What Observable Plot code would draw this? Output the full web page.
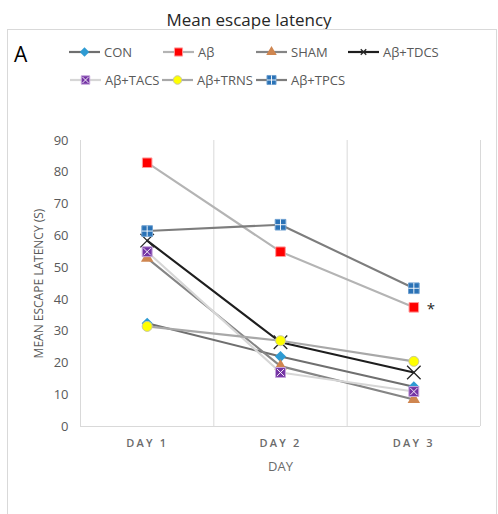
<!DOCTYPE html>
<html><head><meta charset="utf-8">
<script src="https://cdn.jsdelivr.net/npm/d3@7"></script>
<script src="https://cdn.jsdelivr.net/npm/@observablehq/plot@0.6"></script>
<style>
body{margin:0;background:#fff;font-family:"Open Sans",sans-serif;}
#wrap{position:relative;width:498px;height:514px;overflow:hidden;background:#fff;}
#title{position:absolute;left:0;width:498px;top:8px;text-align:center;font-size:17px;color:#262626;line-height:23px;}
#frame{position:absolute;left:7px;top:29px;width:490px;height:500px;border:1px solid #d9d9d9;box-sizing:border-box;}
#panel{position:absolute;left:14px;top:44px;font-size:21px;line-height:1;color:#000;}
.leg{position:absolute;display:flex;align-items:center;height:16px;font-size:13px;color:#595959;white-space:nowrap;}
.leg svg{margin-right:4px;}
#chart{position:absolute;left:0;top:120px;}
#chart g[aria-label="x-axis tick label"] text{letter-spacing:2.2px;font-weight:600;}
#chart g[aria-label="x-axis label"] text{font-size:13px;letter-spacing:0;}
#chart g[aria-label="y-axis label"] text{font-size:12px;}
</style></head><body>
<div id="wrap">
  <div id="title">Mean escape latency</div>
  <div id="frame"></div>
  <div id="panel">A</div>
  <div id="legend"></div>
  <div id="chart"></div>
</div>
<script>
// ---- data ----
const days = [1, 2, 3];
const dayLabels = ["DAY 1", "DAY 2", "DAY 3"];
const seriesNames = ["CON", "Aβ", "SHAM", "Aβ+TDCS", "Aβ+TACS", "Aβ+TRNS", "Aβ+TPCS"];
const CON  = [32.5, 22, 12.5];
const AB   = [83, 55, 37.5];
const SHAM = [53, 19, 8.5];
const TDCS = [58.5, 26.5, 17];
const TACS = [55, 17, 11];
const TRNS = [31.5, 27, 20.5];
const TPCS = [61.5, 63.5, 43.5];
const yTicks = [0, 10, 20, 30, 40, 50, 60, 70, 80, 90];
const yTitle = "MEAN ESCAPE LATENCY (S)";
const xTitle = "DAY";
const starSeries = "Aβ";

const seriesValues = [CON, AB, SHAM, TDCS, TACS, TRNS, TPCS];
const rows = seriesNames.flatMap((s, i) => days.map((d, j) => ({series: s, day: d, value: seriesValues[i][j]})));
const separators = [...days.map(d => d - 0.5), days[days.length - 1] + 0.5];

// ---- styles ----
const styles = {
  "CON":     {line: "#6f6f6f", symbol: "diamond2", fill: "#2e9bd3", stroke: "none", r: 5},
  "Aβ":      {line: "#b4b4b4", symbol: "square", fill: "#ff0000", stroke: "#ff9a9a", r: 5.4},
  "SHAM":    {line: "#858585", symbol: "triangle", fill: "#cf8650", stroke: "none", r: 4.6},
  "Aβ+TDCS": {line: "#1e1e1e", symbol: "times", fill: "none", stroke: "#262626", r: 6.2, sw: 1.3, lr: 2.6},
  "Aβ+TACS": {line: "#d6d6d6", symbol: "square", fill: "#7434a4", stroke: "#c6a6dc", r: 5.6, overlay: "times"},
  "Aβ+TRNS": {line: "#a8a8a8", symbol: "circle", fill: "#ffff00", stroke: "#c8c8a0", r: 5},
  "Aβ+TPCS": {line: "#7d7d7d", symbol: "square", fill: "#2a72b6", stroke: "#6fa0d0", r: 6, overlay: "plus"}
};

// ---- chart ----
const marks = [
  Plot.ruleX(separators, {stroke: "#d9d9d9", strokeWidth: 1}),
  Plot.ruleY([0], {stroke: "#d9d9d9", strokeWidth: 1.2})
];
for (const s of seriesNames) {
  const st = styles[s];
  const data = rows.filter(r => r.series === s);
  marks.push(Plot.line(data, {x: "day", y: "value", stroke: st.line, strokeWidth: 2.1}));
  marks.push(Plot.dot(data, {x: "day", y: "value", symbol: st.symbol, fill: st.fill, stroke: st.stroke, strokeWidth: st.sw || 1, r: st.r}));
  if (st.overlay) {
    marks.push(Plot.dot(data, {x: "day", y: "value", symbol: st.overlay, stroke: "#ffffff", strokeWidth: 0.9, r: st.r * 0.6}));
  }
}
const starRow = rows.filter(r => r.series === starSeries && r.day === days[days.length - 1]);
marks.push(Plot.text(starRow, {x: "day", y: "value", text: () => "*", dx: 17, dy: 2, fontSize: 15, fill: "#262626"}));
marks.push(Plot.axisY({ticks: yTicks, tickSize: 0, tickPadding: 12, fontSize: 13, fill: "#595959",
  label: yTitle, labelAnchor: "center", labelArrow: "none", labelOffset: 46}));
marks.push(Plot.axisX({ticks: days, tickFormat: d => dayLabels[d - 1], tickSize: 0, tickPadding: 13, fontSize: 11, fill: "#6b6b6b",
  label: xTitle, labelAnchor: "center", labelArrow: "none", labelOffset: 44}));

const chart = Plot.plot({
  width: 498, height: 360,
  marginTop: 20, marginBottom: 54, marginLeft: 80, marginRight: 18,
  x: {type: "linear", domain: [separators[0], separators[separators.length - 1]]},
  y: {domain: [0, 90]},
  style: {fontFamily: "Open Sans", fontSize: "13px", color: "#595959", background: "transparent"},
  marks
});
document.getElementById("chart").appendChild(chart);

// ---- legend ----
const legendPos = [[69, 52], [163, 52], [256, 52], [348, 52], [70, 80], [162, 80], [256, 80]];
const symMap = {diamond2: d3.symbolDiamond2, square: d3.symbolSquare, triangle: d3.symbolTriangle,
  times: d3.symbolTimes, circle: d3.symbolCircle, plus: d3.symbolPlus};
const legend = d3.select("#legend");
seriesNames.forEach((s, i) => {
  const st = styles[s];
  const item = legend.append("div").attr("class", "leg")
    .style("left", legendPos[i][0] + "px").style("top", (legendPos[i][1] - 8) + "px");
  const svg = item.append("svg").attr("width", 31).attr("height", 14);
  svg.append("line").attr("x1", 0).attr("x2", 31).attr("y1", 7).attr("y2", 7)
    .attr("stroke", st.line).attr("stroke-width", 2.2);
  const rr = st.lr || st.r * 0.85;
  svg.append("path").attr("transform", "translate(15.5,7)")
    .attr("d", d3.symbol(symMap[st.symbol], Math.PI * rr * rr)())
    .attr("fill", st.fill).attr("stroke", st.stroke).attr("stroke-width", st.sw || 1);
  if (st.overlay) {
    svg.append("path").attr("transform", "translate(15.5,7)")
      .attr("d", d3.symbol(symMap[st.overlay], Math.PI * (rr * 0.6) ** 2)())
      .attr("fill", "none").attr("stroke", "#fff").attr("stroke-width", 0.9);
  }
  item.append("span").text(s);
});
</script>
</body></html>
